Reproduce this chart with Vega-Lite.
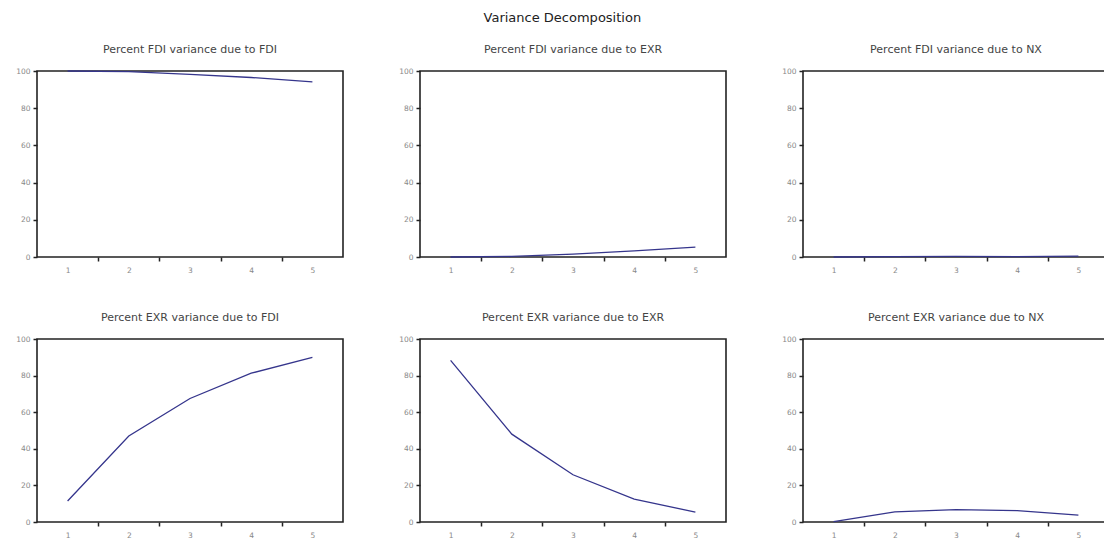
{
  "$schema": "https://vega.github.io/schema/vega-lite/v6.json",
  "background": "white",
  "padding": {"left": 14, "top": 12, "right": 0, "bottom": 0},
  "title": {"text": "Variance Decomposition", "fontSize": 13, "font": "DejaVu Sans", "fontWeight": "normal", "color": "#222", "anchor": "middle", "offset": 18},
  "data": {"values": [
    {"panel": "FDI_FDI", "h": 1, "v": 100}, {"panel": "FDI_FDI", "h": 2, "v": 99.7}, {"panel": "FDI_FDI", "h": 3, "v": 98.2}, {"panel": "FDI_FDI", "h": 4, "v": 96.5}, {"panel": "FDI_FDI", "h": 5, "v": 94.2},
    {"panel": "FDI_EXR", "h": 1, "v": 0}, {"panel": "FDI_EXR", "h": 2, "v": 0.3}, {"panel": "FDI_EXR", "h": 3, "v": 1.5}, {"panel": "FDI_EXR", "h": 4, "v": 3.3}, {"panel": "FDI_EXR", "h": 5, "v": 5.3},
    {"panel": "FDI_NX", "h": 1, "v": 0}, {"panel": "FDI_NX", "h": 2, "v": 0.2}, {"panel": "FDI_NX", "h": 3, "v": 0.3}, {"panel": "FDI_NX", "h": 4, "v": 0.2}, {"panel": "FDI_NX", "h": 5, "v": 0.5},
    {"panel": "EXR_FDI", "h": 1, "v": 11.5}, {"panel": "EXR_FDI", "h": 2, "v": 47}, {"panel": "EXR_FDI", "h": 3, "v": 67.5}, {"panel": "EXR_FDI", "h": 4, "v": 81.3}, {"panel": "EXR_FDI", "h": 5, "v": 90},
    {"panel": "EXR_EXR", "h": 1, "v": 88.3}, {"panel": "EXR_EXR", "h": 2, "v": 48}, {"panel": "EXR_EXR", "h": 3, "v": 25.8}, {"panel": "EXR_EXR", "h": 4, "v": 12.5}, {"panel": "EXR_EXR", "h": 5, "v": 5.4},
    {"panel": "EXR_NX", "h": 1, "v": 0.2}, {"panel": "EXR_NX", "h": 2, "v": 5.5}, {"panel": "EXR_NX", "h": 3, "v": 6.8}, {"panel": "EXR_NX", "h": 4, "v": 6.2}, {"panel": "EXR_NX", "h": 5, "v": 3.8}
  ]},
  "columns": 3,
  "spacing": {"column": 53, "row": 36},
  "concat": [
    {"title": "Percent FDI variance due to FDI", "width": 306, "height": 186, "transform": [{"filter": "datum.panel == 'FDI_FDI'"}], "mark": {"type": "line", "color": "#35358c", "strokeWidth": 1.3},
     "encoding": {"x": {"field": "h", "type": "quantitative", "scale": {"domain": [0.5, 5.5]}, "axis": {"title": null, "values": [1, 1.5, 2, 2.5, 3, 3.5, 4, 4.5, 5], "labelExpr": "datum.value % 1 == 0 ? format(datum.value, 'd') : ''", "labelOverlap": false, "tickOpacity": {"condition": {"test": "datum.value % 1 == 0", "value": 0}, "value": 1}}},
                  "y": {"field": "v", "type": "quantitative", "scale": {"domain": [0, 100]}, "axis": {"title": null, "values": [0, 20, 40, 60, 80, 100]}}}},
    {"title": "Percent FDI variance due to EXR", "width": 306, "height": 186, "transform": [{"filter": "datum.panel == 'FDI_EXR'"}], "mark": {"type": "line", "color": "#35358c", "strokeWidth": 1.3},
     "encoding": {"x": {"field": "h", "type": "quantitative", "scale": {"domain": [0.5, 5.5]}, "axis": {"title": null, "values": [1, 1.5, 2, 2.5, 3, 3.5, 4, 4.5, 5], "labelExpr": "datum.value % 1 == 0 ? format(datum.value, 'd') : ''", "labelOverlap": false, "tickOpacity": {"condition": {"test": "datum.value % 1 == 0", "value": 0}, "value": 1}}},
                  "y": {"field": "v", "type": "quantitative", "scale": {"domain": [0, 100]}, "axis": {"title": null, "values": [0, 20, 40, 60, 80, 100]}}}},
    {"title": "Percent FDI variance due to NX", "width": 306, "height": 186, "transform": [{"filter": "datum.panel == 'FDI_NX'"}], "mark": {"type": "line", "color": "#35358c", "strokeWidth": 1.3},
     "encoding": {"x": {"field": "h", "type": "quantitative", "scale": {"domain": [0.5, 5.5]}, "axis": {"title": null, "values": [1, 1.5, 2, 2.5, 3, 3.5, 4, 4.5, 5], "labelExpr": "datum.value % 1 == 0 ? format(datum.value, 'd') : ''", "labelOverlap": false, "tickOpacity": {"condition": {"test": "datum.value % 1 == 0", "value": 0}, "value": 1}}},
                  "y": {"field": "v", "type": "quantitative", "scale": {"domain": [0, 100]}, "axis": {"title": null, "values": [0, 20, 40, 60, 80, 100]}}}},
    {"title": "Percent EXR variance due to FDI", "width": 306, "height": 183, "transform": [{"filter": "datum.panel == 'EXR_FDI'"}], "mark": {"type": "line", "color": "#35358c", "strokeWidth": 1.3},
     "encoding": {"x": {"field": "h", "type": "quantitative", "scale": {"domain": [0.5, 5.5]}, "axis": {"title": null, "values": [1, 1.5, 2, 2.5, 3, 3.5, 4, 4.5, 5], "labelExpr": "datum.value % 1 == 0 ? format(datum.value, 'd') : ''", "labelOverlap": false, "tickOpacity": {"condition": {"test": "datum.value % 1 == 0", "value": 0}, "value": 1}}},
                  "y": {"field": "v", "type": "quantitative", "scale": {"domain": [0, 100]}, "axis": {"title": null, "values": [0, 20, 40, 60, 80, 100]}}}},
    {"title": "Percent EXR variance due to EXR", "width": 306, "height": 183, "transform": [{"filter": "datum.panel == 'EXR_EXR'"}], "mark": {"type": "line", "color": "#35358c", "strokeWidth": 1.3},
     "encoding": {"x": {"field": "h", "type": "quantitative", "scale": {"domain": [0.5, 5.5]}, "axis": {"title": null, "values": [1, 1.5, 2, 2.5, 3, 3.5, 4, 4.5, 5], "labelExpr": "datum.value % 1 == 0 ? format(datum.value, 'd') : ''", "labelOverlap": false, "tickOpacity": {"condition": {"test": "datum.value % 1 == 0", "value": 0}, "value": 1}}},
                  "y": {"field": "v", "type": "quantitative", "scale": {"domain": [0, 100]}, "axis": {"title": null, "values": [0, 20, 40, 60, 80, 100]}}}},
    {"title": "Percent EXR variance due to NX", "width": 306, "height": 183, "transform": [{"filter": "datum.panel == 'EXR_NX'"}], "mark": {"type": "line", "color": "#35358c", "strokeWidth": 1.3},
     "encoding": {"x": {"field": "h", "type": "quantitative", "scale": {"domain": [0.5, 5.5]}, "axis": {"title": null, "values": [1, 1.5, 2, 2.5, 3, 3.5, 4, 4.5, 5], "labelExpr": "datum.value % 1 == 0 ? format(datum.value, 'd') : ''", "labelOverlap": false, "tickOpacity": {"condition": {"test": "datum.value % 1 == 0", "value": 0}, "value": 1}}},
                  "y": {"field": "v", "type": "quantitative", "scale": {"domain": [0, 100]}, "axis": {"title": null, "values": [0, 20, 40, 60, 80, 100]}}}}
  ],
  "config": {
    "view": {"stroke": "#222", "strokeWidth": 1.6},
    "axis": {"grid": false, "domain": false, "labelFont": "DejaVu Sans", "labelFontSize": 7.5, "labelColor": "#888", "tickColor": "#222", "tickSize": 4, "tickWidth": 1.5, "labelPadding": 3},
    "axisX": {"labelPadding": 5},
    "title": {"font": "DejaVu Sans", "fontSize": 11, "fontWeight": "normal", "color": "#444", "offset": 12}
  }
}
